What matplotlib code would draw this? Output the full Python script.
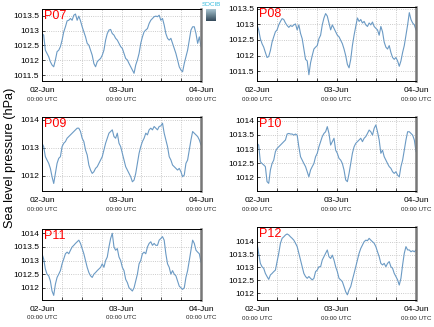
import numpy as np
import matplotlib.pyplot as plt
from matplotlib.colors import LinearSegmentedColormap
from matplotlib.ticker import MultipleLocator, FixedLocator

plt.rcParams['font.family'] = ['Liberation Sans', 'DejaVu Sans']

# half-hourly sea level pressure (hPa), 02-Jun 00:00 to 04-Jun 00:00 UTC
p07 = [1012.90, 1012.85, 1012.34, 1012.23, 1012.12, 1011.95, 1011.84, 1011.78, 1012.01, 1012.29,
       1012.34, 1012.46, 1012.68, 1012.96, 1013.13, 1013.33, 1013.35, 1013.41, 1013.35, 1013.52,
       1013.56, 1013.35, 1013.49, 1013.33, 1013.13, 1012.96, 1012.79, 1012.57, 1012.51, 1012.34,
       1012.17, 1011.89, 1011.78, 1011.95, 1012.01, 1012.06, 1012.17, 1012.34, 1012.68, 1012.90,
       1013.02, 1013.04, 1012.90, 1012.85, 1012.74, 1012.68, 1012.57, 1012.46, 1012.40, 1012.23,
       1012.06, 1012.01, 1011.89, 1011.78, 1011.67, 1011.56, 1011.84, 1012.01, 1012.23, 1012.57,
       1012.79, 1012.96, 1013.02, 1013.07, 1013.24, 1013.35, 1013.41, 1013.47, 1013.49, 1013.47,
       1013.52, 1013.35, 1013.41, 1013.19, 1012.90, 1012.74, 1012.68, 1012.74, 1012.57, 1012.40,
       1012.23, 1012.01, 1011.78, 1011.67, 1011.61, 1011.89, 1012.12, 1012.34, 1012.68, 1013.02,
       1013.13, 1013.13, 1012.90, 1012.57, 1012.79, 1012.46]
p08 = [1012.98, 1012.82, 1012.54, 1012.38, 1012.27, 1012.10, 1011.94, 1011.97, 1012.16, 1012.43,
       1012.60, 1012.76, 1012.82, 1012.98, 1013.09, 1013.18, 1013.15, 1013.04, 1012.96, 1012.90,
       1012.96, 1012.93, 1012.98, 1013.01, 1012.82, 1012.98, 1012.71, 1012.54, 1012.21, 1011.88,
       1011.83, 1011.39, 1011.77, 1012.00, 1012.21, 1012.27, 1012.32, 1012.54, 1012.65, 1012.98,
       1013.20, 1013.34, 1013.26, 1013.04, 1012.82, 1012.98, 1012.87, 1012.76, 1012.65, 1012.60,
       1012.49, 1012.38, 1012.21, 1012.00, 1011.72, 1011.61, 1011.88, 1012.32, 1012.65, 1012.93,
       1013.20, 1013.09, 1013.15, 1013.04, 1013.09, 1012.98, 1012.93, 1013.04, 1012.98, 1013.07,
       1012.93, 1012.87, 1012.82, 1012.65, 1012.93, 1012.76, 1012.43, 1012.27, 1012.21, 1012.32,
       1012.10, 1011.94, 1011.88, 1011.94, 1011.83, 1011.66, 1011.83, 1012.10, 1012.32, 1012.65,
       1012.98, 1013.37, 1013.15, 1013.04, 1012.98, 1012.82]
p09 = [1013.16, 1013.04, 1012.68, 1012.56, 1012.44, 1012.26, 1011.96, 1011.72, 1012.08, 1012.44,
       1012.62, 1012.68, 1013.04, 1013.16, 1013.22, 1013.34, 1013.40, 1013.46, 1013.52, 1013.58,
       1013.64, 1013.70, 1013.70, 1013.58, 1013.34, 1013.22, 1012.92, 1012.74, 1012.38, 1012.20,
       1012.08, 1012.14, 1012.26, 1012.32, 1012.44, 1012.56, 1012.68, 1012.92, 1013.16, 1013.34,
       1013.52, 1013.58, 1013.64, 1013.40, 1013.34, 1013.52, 1013.16, 1013.04, 1012.80, 1012.56,
       1012.32, 1012.20, 1012.08, 1011.96, 1011.78, 1011.84, 1012.08, 1012.44, 1012.80, 1013.04,
       1013.22, 1013.34, 1013.52, 1013.46, 1013.64, 1013.70, 1013.64, 1013.76, 1013.70, 1013.64,
       1013.76, 1013.78, 1013.88, 1013.52, 1013.28, 1013.04, 1012.68, 1012.56, 1012.38, 1012.32,
       1012.26, 1012.20, 1012.26, 1012.14, 1011.96, 1012.02, 1012.44, 1012.56, 1012.92, 1013.28,
       1013.58, 1013.52, 1013.46, 1013.40, 1013.28, 1013.10]
p10 = [1013.20, 1013.14, 1012.55, 1012.49, 1012.44, 1012.38, 1011.85, 1011.79, 1012.26, 1012.49,
       1012.61, 1012.91, 1013.02, 1013.08, 1013.14, 1013.20, 1013.26, 1013.32, 1013.53, 1013.55,
       1013.53, 1013.53, 1013.49, 1013.53, 1013.49, 1013.08, 1012.73, 1012.61, 1012.49, 1012.38,
       1012.20, 1012.02, 1012.26, 1012.38, 1012.49, 1012.73, 1012.85, 1013.08, 1013.26, 1013.44,
       1013.55, 1013.61, 1013.79, 1013.55, 1013.14, 1013.26, 1013.38, 1012.96, 1012.85, 1012.67,
       1012.61, 1012.49, 1012.26, 1011.91, 1011.85, 1012.14, 1012.49, 1012.85, 1013.08, 1013.20,
       1013.26, 1013.32, 1013.38, 1013.26, 1013.38, 1013.44, 1013.55, 1013.67, 1013.61, 1013.49,
       1013.73, 1013.85, 1013.61, 1013.32, 1012.85, 1012.96, 1012.73, 1012.61, 1012.49, 1012.38,
       1012.32, 1012.20, 1012.14, 1012.20, 1012.08, 1012.02, 1012.38, 1012.61, 1012.96, 1013.32,
       1013.61, 1013.61, 1013.55, 1013.49, 1013.32, 1012.91]
p11 = [1013.25, 1013.06, 1012.69, 1012.50, 1012.44, 1012.25, 1011.88, 1011.72, 1012.13, 1012.38,
       1012.50, 1012.63, 1012.88, 1013.06, 1013.25, 1013.31, 1013.25, 1013.38, 1013.50, 1013.56,
       1013.63, 1013.69, 1013.75, 1013.63, 1013.44, 1013.25, 1013.00, 1012.75, 1012.56, 1012.44,
       1012.38, 1012.50, 1012.56, 1012.63, 1012.69, 1012.75, 1012.88, 1012.75, 1013.00, 1013.13,
       1013.50, 1013.81, 1014.00, 1013.50, 1013.38, 1013.44, 1013.13, 1013.00, 1012.75, 1012.63,
       1012.31, 1012.19, 1012.00, 1011.94, 1011.88, 1012.00, 1012.25, 1012.50, 1012.88, 1013.00,
       1013.25, 1013.31, 1013.25, 1013.50, 1013.63, 1013.69, 1013.56, 1013.63, 1013.56, 1013.56,
       1013.75, 1013.81, 1013.88, 1013.75, 1013.25, 1012.88, 1012.75, 1012.50, 1012.63, 1012.50,
       1012.44, 1012.25, 1012.06, 1012.00, 1011.94, 1012.00, 1012.38, 1012.63, 1013.00, 1013.38,
       1013.75, 1013.63, 1013.38, 1013.31, 1013.25, 1012.94]
p12 = [1013.94, 1013.55, 1013.16, 1013.03, 1012.97, 1012.77, 1012.65, 1012.54, 1012.71, 1012.77,
       1012.84, 1012.90, 1013.23, 1013.55, 1013.94, 1014.13, 1014.19, 1014.26, 1014.30, 1014.26,
       1014.19, 1014.13, 1014.06, 1013.94, 1013.81, 1013.55, 1013.29, 1013.03, 1012.77, 1012.65,
       1012.58, 1012.65, 1012.58, 1012.52, 1012.58, 1012.84, 1012.90, 1013.03, 1013.03, 1013.29,
       1013.42, 1013.55, 1013.68, 1013.42, 1013.35, 1013.48, 1013.29, 1013.03, 1012.84, 1012.58,
       1012.52, 1012.45, 1012.26, 1012.06, 1011.94, 1012.13, 1012.26, 1012.52, 1012.77, 1013.03,
       1013.29, 1013.55, 1013.74, 1013.87, 1014.00, 1014.06, 1014.04, 1014.13, 1014.06, 1014.00,
       1013.94, 1013.81, 1013.61, 1013.42, 1013.16, 1013.10, 1013.16, 1013.03, 1013.16, 1013.23,
       1013.03, 1012.97, 1012.77, 1012.65, 1012.52, 1012.32, 1012.58, 1013.10, 1013.55, 1013.81,
       1013.68, 1013.68, 1013.61, 1013.65, 1013.61, 1013.68]

stations = ['P07', 'P08', 'P09', 'P10', 'P11', 'P12']
series = [p07, p08, p09, p10, p11, p12]
ylims = [(1011.3, 1013.73), (1011.19, 1013.55), (1011.45, 1014.1),
         (1011.52, 1014.13), (1011.55, 1014.16), (1011.74, 1014.57)]
yticks = [[1011.5, 1012, 1012.5, 1013, 1013.5],
          [1011.5, 1012, 1012.5, 1013, 1013.5],
          [1012, 1013, 1014],
          [1012, 1012.5, 1013, 1013.5, 1014],
          [1012, 1012.5, 1013, 1013.5, 1014],
          [1012, 1012.5, 1013, 1013.5, 1014]]
day_labels = ['02-Jun', '03-Jun', '04-Jun']

# panel boxes in pixels: left, right, top, bottom
W, H = 435, 327
boxes = [(42, 201, 9, 81), (257, 416, 7, 81),
         (42, 201, 117, 191), (257, 416, 117, 191),
         (42, 201, 229, 300), (257, 416, 227, 300)]

fig = plt.figure(figsize=(W / 100, H / 100), dpi=100)

for name, vals, ylim, ticks, (l, r, t, b) in zip(stations, series, ylims, yticks, boxes):
    ax = fig.add_axes([l / W, 1 - b / H, (r - l) / W, (b - t) / H])
    hours = np.linspace(0, 48, len(vals))
    ax.plot(hours, vals, color='#6b9ac4', lw=0.8)
    ax.set_xlim(0, 48)
    ax.set_ylim(*ylim)
    ax.yaxis.set_major_locator(FixedLocator(ticks))
    ax.yaxis.set_major_formatter(plt.FuncFormatter(lambda v, p: f'{v:g}'))
    ax.set_xticks([0, 24, 48])
    ax.set_xticklabels(day_labels)
    ax.xaxis.set_minor_locator(MultipleLocator(6))
    ax.grid(which='both', color='#bbbbbb', linestyle=':', linewidth=0.6)
    ax.tick_params(which='both', direction='in', length=2, width=0.5,
                   labelsize=6, pad=2, colors='black')
    ax.tick_params(axis='x', pad=4)
    for side in ('left', 'top', 'bottom'):
        ax.spines[side].set_linewidth(0.7)
        ax.spines[side].set_color('black')
    ax.spines['right'].set_linewidth(1.8)
    ax.spines['right'].set_color('#777777')
    for x in (0, 24, 48):
        ax.text(x, -0.25, '00:00 UTC', transform=ax.get_xaxis_transform(),
                ha='center', va='center', fontsize=4.5, color='#222222')
    ax.text(0.01, 0.98, name, transform=ax.transAxes, ha='left', va='top',
            fontsize=9, color='red')

fig.text(0.024, 0.517, 'Sea level pressure (hPa)', rotation=90,
         ha='center', va='center', fontsize=9.2)

# logo
lax = fig.add_axes([206 / W, 1 - 21 / H, 10 / W, 12 / H])
grad = np.linspace(0, 1, 50).reshape(-1, 1)
logo_cmap = LinearSegmentedColormap.from_list('logo', ['#a8c4d0', '#6d8795', '#34495a'])
lax.imshow(grad, aspect='auto', cmap=logo_cmap)
lax.axis('off')
fig.text(211 / W, 1 - 5 / H, 'SOCIB', ha='center', va='center',
         fontsize=4.5, color='#33bbdd')

fig.savefig('out.png', dpi=100)
